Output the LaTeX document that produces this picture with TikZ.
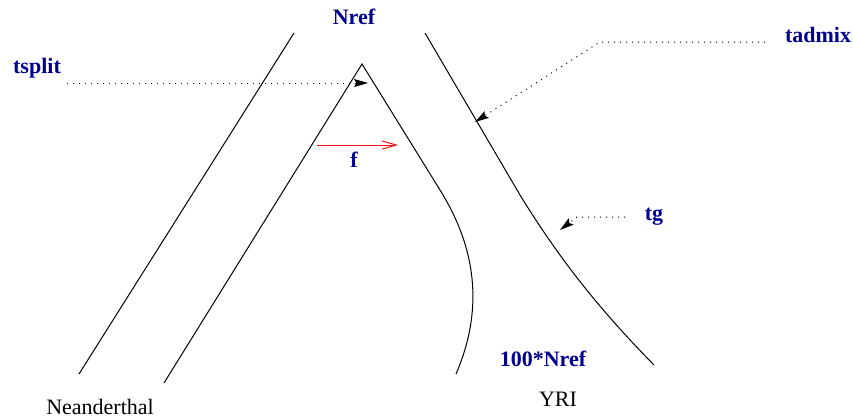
\documentclass[tikz,border=0pt]{standalone}
\usepackage{fontspec}
\setmainfont{Liberation Serif}
\usetikzlibrary{arrows.meta,positioning,calc}
\definecolor{azul}{RGB}{0, 0, 145}
\definecolor{rojo}{RGB}{240, 20, 20}
\tikzset{
  lbl/.style={font=\fontsize{11}{13}\selectfont\bfseries,text=azul,anchor=base,inner sep=0pt},
  pop/.style={font=\fontsize{11}{13}\selectfont,anchor=base,inner sep=0pt},
  branch/.style={line width=0.5pt},
  pointer/.style={line width=0.5pt,dash pattern=on 0.5pt off 2.5pt,
    -{Stealth[length=7pt,width=4pt,inset=1.2pt]}}
}

\begin{document}
\begin{tikzpicture}[x=0.5pt,y=-0.5pt]
        \useasboundingbox (0,0) rectangle (853,419);
        % branches
        \draw[branch] (294,33) -- (79,374);
        \draw[branch] (164,383) -- (362,64) -- (440,190) .. controls (470,238) and (488,300) .. (456,374);
        \draw[branch] (425,33) -- (520,195) .. controls (560,260) and (600,310) .. (654,365);
        % labels
        \node[lbl] (nref) at (354,24) {Nref};
        \node[lbl] (tsplit) at (37,73) {tsplit};
        \node[lbl] (tadmix) at (818,42) {tadmix};
        \node[lbl] (tg) at (654,220) {tg};
        \node[lbl] (f) at (354,167) {f};
        \node[lbl] (nyri) at (543,366) {100*Nref};
        \node[pop] (yri) at (558,406) {YRI};
        \node[pop] (nean) at (100,414) {Neanderthal};
        % pointers
        \coordinate (splitpt) at (368,83);
        \coordinate (admixpt) at (475,122);
        \coordinate (tgpt) at (560,230);
        \draw[pointer] (67,83) -- (splitpt);
        \draw[pointer] (765,42) -- (600,42) -- (admixpt);
        \draw[pointer] (625,217) -- (577,217) -- (tgpt);
        % migration
        \coordinate (fa) at (317,145);
        \coordinate (fb) at (398,145);
        \draw[rojo,line width=0.5pt,-{Straight Barb[length=7pt,width=4pt]}] (fa) -- (fb);
      \end{tikzpicture}
\end{document}
